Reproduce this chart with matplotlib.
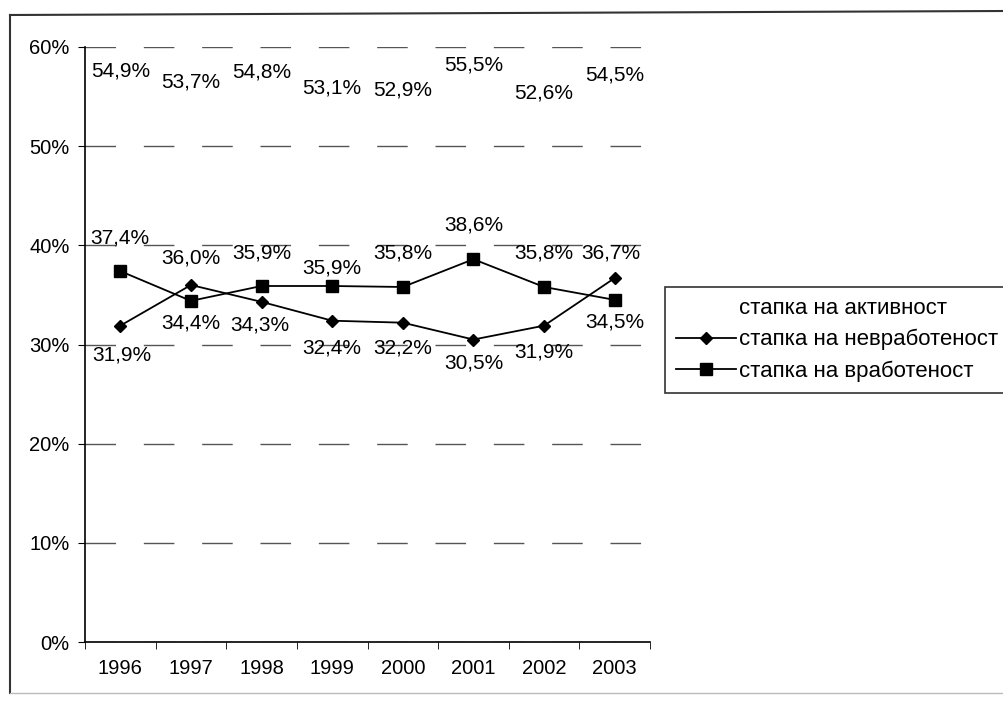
import matplotlib.pyplot as plt
from matplotlib.lines import Line2D
from matplotlib.ticker import PercentFormatter

plt.rcParams['font.family'] = ['Liberation Sans', 'DejaVu Sans']

years = ["1996", "1997", "1998", "1999", "2000", "2001", "2002", "2003"]
activity = [54.9, 53.7, 54.8, 53.1, 52.9, 55.5, 52.6, 54.5]
unemployment = [31.9, 36.0, 34.3, 32.4, 32.2, 30.5, 31.9, 36.7]
employment = [37.4, 34.4, 35.9, 35.9, 35.8, 38.6, 35.8, 34.5]

names = ["стапка на активност", "стапка на невработеност", "стапка на вработеност"]

# label offsets in pixels (dx, dy) - hand placed like in the original
act_off = [(0, 27)] * 8
unemp_off = [(2, -29), (0, 27), (-2, -23), (0, -27), (0, -25), (0, -23), (0, -26), (-4, 25)]
emp_off = [(0, 33), (0, -22), (0, 33), (0, 18), (0, 34), (0, 34), (0, 34), (0, -22)]

fig = plt.figure(figsize=(10.04, 7.02), dpi=100)
ax = fig.add_axes([85 / 1004, 1 - 642 / 702, 565 / 1004, 595 / 702])

x = list(range(len(years)))
fs = 15

ax.plot(x, activity, color='white', lw=0)
ax.plot(x, unemployment, color='black', lw=1.3, marker='D', ms=6.5)
ax.plot(x, employment, color='black', lw=1.3, marker='s', ms=8)

for vals, offs in [(activity, act_off), (unemployment, unemp_off), (employment, emp_off)]:
    for i, v in enumerate(vals):
        ax.annotate(f"{v:.1f}%".replace('.', ','), (i, v), xytext=offs[i],
                    textcoords='offset pixels', ha='center', va='center', fontsize=fs)

ax.set_xlim(-0.5, 7.5)
ax.set_ylim(0, 60)
ax.set_yticks(range(0, 61, 10))
ax.yaxis.set_major_formatter(PercentFormatter(decimals=0))
ax.set_xticks(x)
ax.set_xticklabels(years)
ax.set_xticks([i - 0.5 for i in range(9)], minor=True)
ax.tick_params(axis='x', which='major', length=0, pad=12, labelsize=14.5)
ax.tick_params(axis='x', which='minor', length=5, direction='out')
ax.tick_params(axis='y', length=5, direction='out', pad=6, labelsize=14.5)

ax.grid(axis='y', color='#555555', lw=1, linestyle=(0, (22, 20)))
ax.set_axisbelow(True)
for s in ['top', 'right']:
    ax.spines[s].set_visible(False)
ax.spines['left'].set_linewidth(1.2)
ax.spines['bottom'].set_linewidth(1.2)

handles = [Line2D([], [], color='white', lw=1),
           Line2D([], [], color='black', lw=1.3, marker='D', ms=6.5),
           Line2D([], [], color='black', lw=1.3, marker='s', ms=8)]
leg = fig.legend(handles, names, loc='upper left', bbox_to_anchor=(665 / 1004, 1 - 287 / 702),
                 fontsize=16, frameon=True, fancybox=False, edgecolor='black',
                 handlelength=2.7, handletextpad=0.15, borderpad=0.5, labelspacing=0.45,
                 borderaxespad=0)
leg.get_frame().set_linewidth(1.2)

# outer frame of the chart area (scanned page)
fig.add_artist(Line2D([10 / 1004, 10 / 1004], [1 - 15 / 702, 1 - 693 / 702], color='#333333', lw=1.5))
fig.add_artist(Line2D([10 / 1004, 1], [1 - 15 / 702, 1 - 11 / 702], color='#333333', lw=1.5))
fig.add_artist(Line2D([10 / 1004, 1], [1 - 693 / 702, 1 - 693 / 702], color='#bbbbbb', lw=1))

fig.savefig("out.png", dpi=100)
